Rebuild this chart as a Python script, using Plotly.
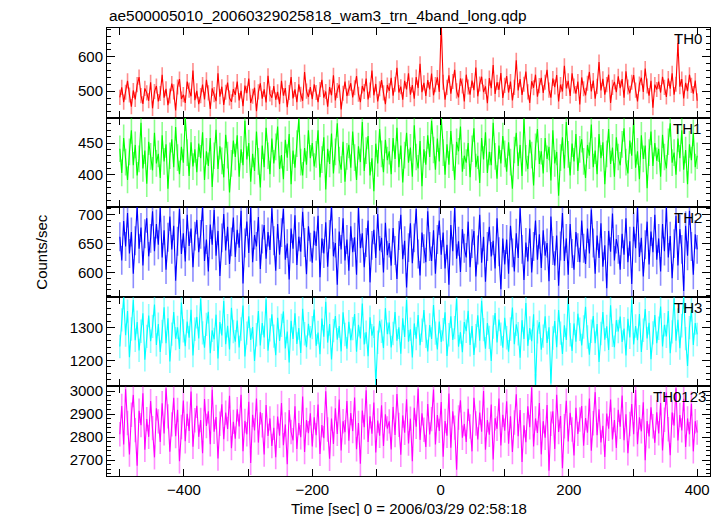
import numpy as np
import plotly.graph_objects as go
from plotly.subplots import make_subplots

# ---------------- data (read/estimated from the reference light curve) ----------------
TITLE = "ae500005010_20060329025818_wam3_trn_4band_long.qdp"
XLABEL = "Time [sec] 0 = 2006/03/29 02:58:18"
YLABEL = "Counts/sec"
BANDS = ["TH0", "TH1", "TH2", "TH3", "TH0123"]
TSTART = -500      # first time bin [s]
TBIN = 3           # bin width [s]

th0 = [
    482, 511, 468, 497, 530, 489, 455, 502, 476, 519, 541, 487, 463, 508, 495, 472, 526, 450, 499, 515,
    470, 493, 548, 481, 507, 459, 486, 522, 498, 444, 512, 535, 477, 490, 466, 528, 503, 485, 560, 474,
    501, 462, 487, 519, 476, 533, 495, 448, 508, 490, 471, 552, 484, 513, 460, 497, 525, 480, 469, 506,
    489, 528, 473, 501, 456, 516, 494, 537, 466, 485, 510, 442, 498, 523, 478, 505, 467, 545, 492, 481,
    515, 475, 498, 462, 530, 487, 509, 453, 496, 541, 479, 505, 468, 520, 491, 472, 556, 500, 483, 512,
    477, 520, 496, 468, 505, 533, 481, 499, 455, 512, 488, 546, 473, 502, 519, 447, 494, 528, 486, 509,
    523, 482, 510, 544, 491, 468, 515, 499, 537, 476, 503, 560, 488, 521, 470, 507, 532, 495, 462, 518,
    501, 539, 487, 520, 568, 496, 513, 475, 530, 505, 552, 490, 518, 478, 541, 509, 580, 497, 524, 486,
    532, 505, 551, 488, 519, 540, 498, 700, 526, 475, 511, 546, 493, 528, 562, 501, 482, 537, 515, 470,
    548, 512, 490, 531, 503, 569, 485, 521, 542, 497, 514, 465, 538, 509, 576, 492, 526, 504, 553, 480,
    517, 544, 496, 528, 473, 511, 590, 502, 535, 489, 520, 557, 498, 466, 529, 510, 548, 484, 516, 539,
    495, 526, 562, 503, 481, 537, 512, 547, 470, 519, 499, 574, 508, 530, 486, 552, 515, 493, 528, 461,
    540, 507, 488, 523, 556, 499, 531, 478, 514, 585, 502, 536, 490, 519, 548, 466, 511, 527, 497, 543,
    509, 535, 481, 558, 512, 494, 526, 547, 503, 470, 521, 539, 498, 566, 515, 487, 530, 452, 519, 505,
    528, 496, 542, 511, 483, 537, 507, 552, 490, 520, 640, 513, 535, 479, 524, 500, 548, 517, 493, 531,
    472,
]
th1 = [
    441, 403, 458, 420, 392, 436, 470, 415, 447, 399, 425, 482, 410, 438, 386, 452, 429, 407, 466, 418,
    433, 395, 462, 421, 448, 378, 430, 456, 412, 475, 427, 401, 444, 419, 490, 435, 398, 451, 413, 440,
    404, 449, 426, 467, 392, 437, 414, 458, 381, 430, 471, 409, 445, 422, 396, 463, 431, 372, 418, 454,
    428, 462, 397, 440, 415, 485, 424, 450, 389, 433, 406, 468, 421, 380, 446, 412, 474, 430, 401, 457,
    418, 444, 476, 409, 431, 393, 455, 427, 464, 385, 438, 411, 449, 488, 420, 399, 442, 416, 470, 426,
    450, 413, 432, 470, 396, 424, 459, 377, 441, 417, 465, 402, 436, 481, 423, 408, 452, 389, 429, 447,
    411, 468, 427, 392, 445, 420, 483, 406, 438, 461, 399, 426, 374, 449, 418, 472, 433, 404, 455, 423,
    437, 401, 458, 425, 474, 412, 446, 388, 431, 466, 419, 443, 397, 478, 428, 410, 453, 382, 440, 416,
    462, 428, 485, 439, 408, 457, 421, 491, 435, 400, 448, 416, 469, 427, 392, 452, 437, 476, 405, 430,
    419, 450, 396, 441, 473, 412, 430, 387, 458, 424, 467, 403, 436, 415, 482, 429, 394, 446, 418, 461,
    433, 405, 451, 420, 378, 439, 466, 414, 447, 398, 488, 426, 409, 455, 431, 383, 444, 472, 417, 437,
    402, 458, 425, 444, 391, 470, 418, 436, 367, 427, 459, 410, 483, 432, 399, 449, 421, 464, 406, 440,
    456, 421, 395, 447, 430, 479, 412, 438, 401, 464, 426, 451, 385, 433, 472, 417, 443, 397, 459, 428,
    415, 448, 473, 420, 402, 454, 430, 486, 411, 437, 393, 462, 425, 446, 379, 435, 468, 414, 450, 422,
    441, 397, 463, 428, 410, 452, 481, 419, 435, 400, 457, 426, 470, 408, 439, 385, 448, 423, 466, 412,
    430,
]
th2 = [
    662, 621, 689, 645, 703, 633, 670, 598, 655, 715, 641, 678, 612, 667, 694, 628, 659, 706, 637, 684,
    648, 712, 626, 673, 605, 661, 697, 640, 681, 586, 654, 710, 632, 668, 619, 700, 646, 676, 609, 663,
    691, 635, 666, 714, 620, 657, 602, 683, 648, 708, 629, 672, 594, 660, 701, 638, 679, 615, 653, 695,
    627, 674, 643, 707, 581, 651, 688, 634, 713, 618, 665, 645, 696, 606, 658, 682, 624, 670, 639, 711,
    655, 603, 684, 631, 669, 710, 622, 650, 588, 676, 641, 699, 613, 662, 636, 705, 652, 597, 680, 644,
    617, 672, 646, 698, 592, 659, 633, 687, 610, 666, 715, 628, 651, 579, 671, 640, 694, 621, 657, 603,
    680, 635, 661, 596, 712, 642, 668, 609, 652, 690, 583, 647, 674, 625, 701, 638, 660, 600, 686, 630,
    651, 612, 677, 638, 589, 664, 700, 623, 655, 574, 643, 685, 616, 660, 710, 632, 595, 669, 641, 618,
    706, 645, 620, 673, 598, 657, 690, 631, 669, 607, 648, 579, 682, 637, 713, 624, 654, 601, 675, 642,
    626, 688, 609, 650, 672, 593, 639, 700, 617, 662, 584, 645, 679, 628, 655, 607, 694, 636, 571, 659,
    614, 657, 598, 681, 634, 602, 668, 625, 711, 640, 587, 652, 619, 676, 600, 645, 690, 622, 666, 608,
    673, 629, 651, 585, 697, 638, 612, 664, 577, 646, 703, 620, 659, 596, 684, 633, 605, 670, 643, 618,
    690, 642, 615, 676, 633, 709, 651, 598, 664, 625, 685, 610, 647, 573, 672, 636, 702, 621, 658, 640,
    605, 667, 631, 694, 618, 654, 580, 679, 642, 712, 627, 660, 593, 648, 688, 614, 671, 635, 700, 622,
    659, 602, 684, 637, 713, 626, 663, 590, 650, 698, 612, 675, 640, 568, 681, 629, 707, 645, 596, 666,
    640,
]
th3 = [
    1243, 1325, 1394, 1278, 1352, 1210, 1297, 1386, 1262, 1318, 1231, 1290, 1345, 1202, 1274, 1338, 1259, 1305, 1372, 1248,
    1312, 1226, 1289, 1364, 1253, 1330, 1197, 1281, 1349, 1267, 1302, 1235, 1378, 1291, 1244, 1320, 1270, 1356, 1215, 1296,
    1334, 1268, 1390, 1285, 1239, 1311, 1350, 1222, 1293, 1265, 1341, 1206, 1318, 1277, 1383, 1250, 1307, 1234, 1362, 1289,
    1258, 1323, 1240, 1297, 1369, 1212, 1284, 1336, 1263, 1303, 1198, 1279, 1352, 1246, 1315, 1271, 1388, 1230, 1294, 1342,
    1275, 1216, 1331, 1260, 1308, 1351, 1237, 1289, 1194, 1322, 1266, 1345, 1251, 1300, 1223, 1359, 1282, 1241, 1313, 1270,
    1301, 1357, 1245, 1286, 1219, 1329, 1273, 1381, 1255, 1312, 1203, 1292, 1337, 1264, 1306, 1228, 1348, 1280, 1236, 1319,
    1262, 1298, 1343, 1227, 1310, 1268, 1375, 1249, 1287, 1213, 1333, 1276, 1305, 1124, 1256, 1322, 1290, 1238, 1361, 1281,
    1317, 1240, 1283, 1349, 1261, 1302, 1221, 1330, 1272, 1386, 1258, 1296, 1209, 1314, 1267, 1340, 1247, 1293, 1355, 1274,
    1228, 1309, 1266, 1371, 1284, 1234, 1320, 1257, 1295, 1348, 1214, 1279, 1336, 1263, 1301, 1390, 1242, 1287, 1225, 1318,
    1290, 1353, 1248, 1306, 1217, 1276, 1339, 1261, 1384, 1295, 1236, 1315, 1271, 1198, 1303, 1346, 1255, 1326, 1281, 1239,
    1331, 1270, 1227, 1297, 1363, 1250, 1311, 1282, 1208, 1324, 1266, 1377, 1245, 1300, 1259, 1342, 1122, 1288, 1318, 1233,
    1275, 1336, 1254, 1302, 1129, 1269, 1321, 1241, 1355, 1284, 1220, 1308, 1263, 1392, 1279, 1229, 1314, 1258, 1344, 1296,
    1246, 1303, 1365, 1272, 1218, 1290, 1337, 1253, 1312, 1195, 1283, 1349, 1264, 1305, 1232, 1370, 1277, 1241, 1324, 1289,
    1335, 1257, 1298, 1215, 1328, 1271, 1387, 1249, 1306, 1262, 1343, 1226, 1293, 1358, 1268, 1316, 1204, 1285, 1340, 1253,
    1299, 1366, 1243, 1310, 1274, 1352, 1222, 1288, 1391, 1261, 1325, 1238, 1307, 1395, 1267, 1183, 1301, 1356, 1248, 1315,
    1280,
]
th0123 = [
    2812, 2935, 2768, 3008, 2861, 2724, 2897, 2983, 2830, 2676, 2914, 2852, 2990, 2745, 2878, 2801, 2956, 2839, 2712, 2925,
    2868, 2779, 2947, 2816, 3012, 2890, 2736, 2855, 2971, 2804, 2918, 2695, 2844, 2959, 2782, 2901, 2827, 2998, 2758, 2873,
    2936, 2801, 2874, 2730, 2965, 2848, 2912, 2769, 3005, 2823, 2887, 2707, 2858, 2942, 2791, 2906, 2835, 2979, 2752, 2866,
    2793, 2921, 2846, 2984, 2739, 2870, 2812, 2953, 2688, 2897, 2829, 2967, 2776, 2908, 2851, 2724, 2939, 2805, 2881, 2761,
    2840, 2713, 2889, 2806, 2948, 2765, 2855, 2682, 2917, 2822, 2786, 2934, 2748, 2861, 2799, 2976, 2735, 2874, 2817, 2903,
    2759, 2886, 2808, 2941, 2727, 2852, 2795, 2999, 2833, 2706, 2880, 2770, 2925, 2814, 2963, 2742, 2869, 2821, 2957, 2784,
    2904, 2826, 2972, 2747, 2861, 2684, 2915, 2843, 3003, 2779, 2890, 2815, 2950, 2733, 2872, 2806, 2938, 2761, 2899, 2837,
    2868, 2746, 2931, 2809, 2987, 2853, 2723, 2894, 2819, 2964, 2772, 2880, 2695, 2927, 2845, 3010, 2788, 2903, 2832, 2757,
    2944, 2811, 2878, 3006, 2768, 2896, 2827, 2952, 2715, 2870, 2806, 2989, 2754, 2912, 2841, 2658, 2885, 2960, 2797, 2857,
    2779, 2923, 2846, 2738, 2971, 2859, 2790, 2906, 2823, 3000, 2745, 2874, 2810, 2941, 2703, 2882, 2836, 2967, 2764, 2897,
    2828, 2955, 2771, 2890, 2735, 2863, 2986, 2804, 2917, 2692, 2851, 2778, 2934, 2843, 3015, 2759, 2881, 2818, 2948, 2725,
    2869, 2797, 2939, 2654, 2858, 2912, 2748, 2984, 2822, 2891, 2665, 2847, 2958, 2781, 2905, 2833, 2720, 2927, 2814, 2876,
    2935, 2762, 2883, 2819, 2967, 2741, 2860, 2995, 2808, 2921, 2777, 2849, 2714, 2902, 2836, 2963, 2790, 2874, 2753, 2918,
    2845, 2980, 2786, 2899, 2730, 2857, 2943, 2812, 3004, 2769, 2886, 2825, 2951, 2700, 2870, 2803, 2929, 2847, 2775, 2908,
    2816, 2948, 2742, 2875, 2993, 2834, 2721, 2907, 2850, 3012, 2785, 2896, 2829, 2966, 2757, 2881, 2812, 2945, 2738, 2869,
    2820,
]
# typical 1-sigma error of a point, per band
errors = [22, 21, 25, 36, 53]

x_tick_values = [-500, -400, -300, -200, -100, 0, 100, 200, 300, 400]
x_tick_labels = ["", "\u2212400", "", "\u2212200", "", "0", "", "200", "", "400"]
y_ticks = [[500, 600], [400, 450], [600, 650, 700], [1200, 1300], [2700, 2800, 2900, 3000]]

# ---------------- styling ----------------
series = [th0, th1, th2, th3, th0123]
colors = ["#ff0000", "#00ff00", "#0000ff", "#00ffff", "#ff00ff"]
light = ["rgba(255,0,0,0.45)", "rgba(0,255,0,0.45)", "rgba(0,0,255,0.45)",
         "rgba(0,255,255,0.45)", "rgba(255,0,255,0.45)"]
y_ranges = [[423, 684], [349, 490], [558, 713], [1120, 1396], [2631, 3020]]
minor_dt = [20, 10, 10, 20, 20]
label_xshift = [-6, -7, -6, -6, -2]
FONT = "Liberation Sans, Arial, Helvetica, sans-serif"

fig = make_subplots(rows=5, cols=1, shared_xaxes=True, vertical_spacing=0)

for i, vals in enumerate(series):
    t = TSTART + TBIN * np.arange(len(vals))
    fig.add_trace(go.Scatter(
        x=t, y=vals, mode="lines",
        line=dict(color=colors[i], width=1.1),
        error_y=dict(type="constant", value=errors[i], color=light[i], thickness=1.6, width=0),
        showlegend=False, hoverinfo="skip",
    ), row=i + 1, col=1)

    fig.update_xaxes(
        range=[-520, 420], showgrid=False, zeroline=False,
        showline=True, linecolor="black", linewidth=1, mirror="ticks",
        ticks="inside", ticklen=7, tickcolor="black", tickwidth=1,
        tickvals=x_tick_values, ticktext=x_tick_labels,
        showticklabels=(i == 4), tickfont=dict(size=15, color="black", family=FONT),
        row=i + 1, col=1)
    fig.update_yaxes(
        range=y_ranges[i], showgrid=False, zeroline=False,
        showline=True, linecolor="black", linewidth=1, mirror="ticks",
        ticks="inside", ticklen=8, tickcolor="black", tickwidth=1,
        tickvals=y_ticks[i], tickfont=dict(size=15, color="black", family=FONT),
        minor=dict(dtick=minor_dt[i], tick0=0, ticks="inside", ticklen=4,
                   tickcolor="black", showgrid=False),
        row=i + 1, col=1)

    yref = "y domain" if i == 0 else f"y{i + 1} domain"
    xref = "x domain" if i == 0 else f"x{i + 1} domain"
    fig.add_annotation(text=BANDS[i], xref=xref, yref=yref, x=1, y=1,
                       xanchor="right", yanchor="top", xshift=label_xshift[i], yshift=0,
                       showarrow=False, font=dict(size=15, color="black", family=FONT))

fig.add_annotation(text=TITLE, xref="paper", yref="paper", x=0, y=1,
                   xanchor="left", yanchor="bottom", yshift=2, showarrow=False,
                   font=dict(size=15.4, color="black", family=FONT))
fig.add_annotation(text=YLABEL, xref="paper", yref="paper", x=-0.11, y=0.5,
                   textangle=-90, xanchor="center", yanchor="middle", showarrow=False,
                   font=dict(size=15, color="black", family=FONT))
fig.add_annotation(text=XLABEL, xref="paper", yref="paper", x=0.5, y=0,
                   xanchor="center", yanchor="top", yshift=-22, showarrow=False,
                   font=dict(size=15, color="black", family=FONT))

fig.update_layout(
    width=722, height=516,
    margin=dict(l=107, r=12, t=28, b=40),
    paper_bgcolor="white", plot_bgcolor="white",
    font=dict(family=FONT, color="black"),
)

fig.write_html("out.html", config={"displayModeBar": False},
               post_script="document.body.style.margin='0px';")
